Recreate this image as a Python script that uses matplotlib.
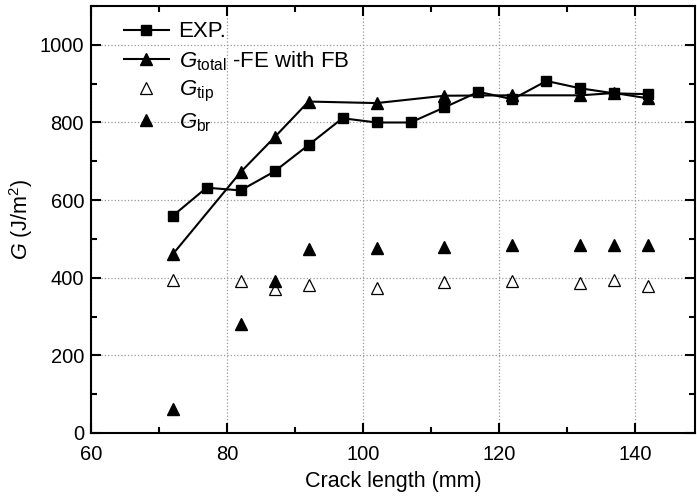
import matplotlib
matplotlib.use("Agg")
import matplotlib.pyplot as plt
from matplotlib.ticker import MultipleLocator

plt.rcParams['font.family'] = ['Liberation Sans', 'DejaVu Sans']
plt.rcParams['mathtext.fontset'] = 'custom'
plt.rcParams['mathtext.rm'] = 'Liberation Sans'
plt.rcParams['mathtext.it'] = 'Liberation Sans:italic'

# Experimental energy release rate
exp_x = [72, 77, 82, 87, 92, 97, 102, 107, 112, 117, 122, 127, 132, 137, 142]
exp_g = [559, 632, 625, 674, 742, 811, 800, 800, 839, 879, 860, 907, 888, 875, 873]

# FE results with fibre bridging
fe_x = [72, 82, 87, 92, 102, 112, 122, 132, 137, 142]
g_total = [460, 672, 762, 854, 850, 869, 870, 870, 876, 862]
g_tip = [395, 391, 370, 382, 374, 389, 391, 387, 393, 379]
g_br = [63, 280, 391, 475, 477, 479, 485, 485, 485, 485]

fig = plt.figure(figsize=(6.97, 4.97), dpi=100)
ax = fig.add_axes([0.1306, 0.1288, 0.866, 0.859])

ax.plot(exp_x, exp_g, '-s', color='black', lw=1.5, ms=7, label='EXP.')
ax.plot(fe_x, g_total, '-^', color='black', lw=1.5, ms=8.5,
        label=r'$G_{\mathrm{total}}$ -FE with FB')
ax.plot(fe_x, g_tip, '^', color='black', mfc='white', mew=0.9, ms=8.5,
        ls='none', label=r'$G_{\mathrm{tip}}$')
ax.plot(fe_x, g_br, '^', color='black', ms=8.5, ls='none',
        label=r'$G_{\mathrm{br}}$')

ax.set_xlim(60, 148.8)
ax.set_ylim(0, 1100)
ax.xaxis.set_major_locator(MultipleLocator(20))
ax.xaxis.set_minor_locator(MultipleLocator(10))
ax.yaxis.set_major_locator(MultipleLocator(200))
ax.yaxis.set_minor_locator(MultipleLocator(100))
ax.tick_params(which='both', direction='in', top=True, right=True,
               labelsize=14.5, width=1.5)
ax.tick_params(axis='x', which='major', pad=9)
ax.tick_params(axis='y', which='major', pad=5)
ax.tick_params(which='major', length=7)
ax.tick_params(which='minor', length=4)
for s in ax.spines.values():
    s.set_linewidth(1.5)

ax.grid(True, which='major', ls=':', color='#999999', lw=0.9)
ax.set_axisbelow(True)

ax.set_xlabel('Crack length (mm)', fontsize=15.5, labelpad=5)
ax.set_ylabel(r'$G$ (J/m$^2$)', fontsize=15.5, labelpad=3)

leg = ax.legend(loc='upper left', frameon=False, fontsize=16,
                handlelength=2.0, handletextpad=0.45, labelspacing=0.3,
                borderaxespad=0.0, bbox_to_anchor=(0.04, 0.985))

fig.savefig('out.png', dpi=100)
